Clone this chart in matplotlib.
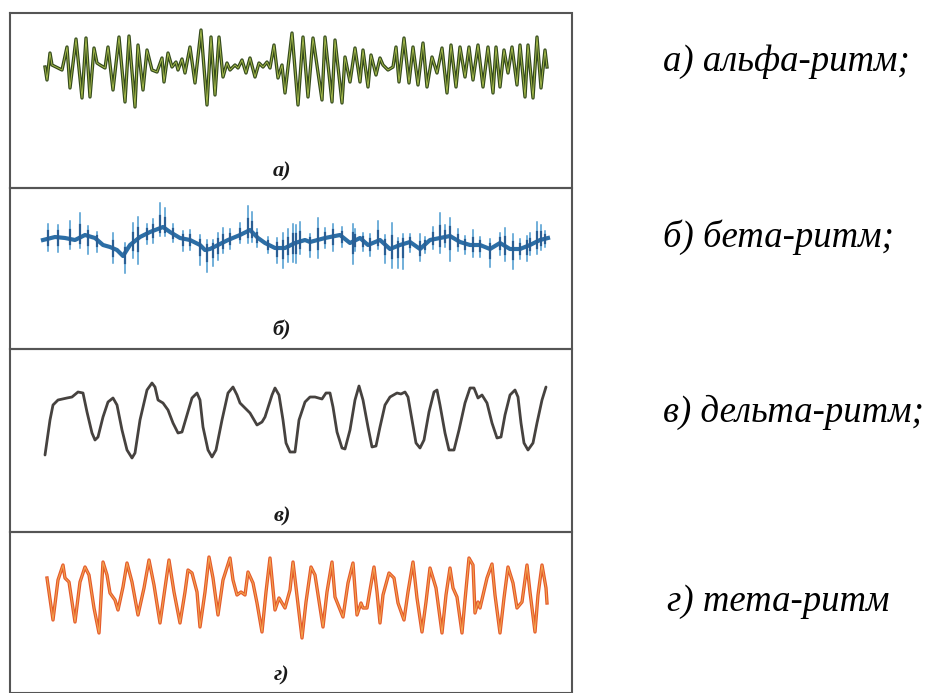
import matplotlib
matplotlib.use('Agg')
import matplotlib.pyplot as plt

W, H = 927, 693

# readings: x position, y position (pixel-like units)
alpha_x = [45, 47, 50, 52, 58, 62, 67, 70, 76, 82, 86, 90, 94, 97, 100, 105, 108, 113, 119, 125,
           129, 135, 138, 143, 147, 152, 157, 162, 164, 168, 172, 176, 178, 182, 185, 190, 195, 201,
           207, 211, 215, 219, 223, 227, 230, 235, 238, 242, 246, 250, 255, 259, 263, 267, 270, 274,
           278, 282, 285, 292, 298, 303, 308, 313, 322, 325, 332, 335, 342, 345, 350, 355, 360, 363,
           368, 371, 376, 380, 383, 388, 393, 396, 399, 404, 409, 413, 418, 423, 427, 432, 437, 442,
           447, 451, 456, 460, 465, 469, 473, 478, 483, 488, 493, 496, 500, 504, 508, 512, 517, 520,
           525, 528, 533, 537, 541, 545, 547]
alpha_y = [67, 80, 53, 65, 68, 70, 47, 88, 39, 98, 38, 97, 48, 63, 65, 68, 47, 90, 37, 102,
           36, 107, 45, 90, 50, 70, 72, 58, 82, 53, 67, 62, 70, 59, 73, 47, 83, 30,
           105, 37, 95, 37, 77, 63, 70, 65, 68, 60, 73, 58, 77, 63, 67, 62, 68, 45,
           78, 65, 93, 33, 105, 37, 97, 38, 100, 37, 102, 40, 103, 57, 82, 48, 82, 50,
           87, 55, 75, 58, 65, 70, 67, 47, 82, 38, 83, 47, 85, 43, 87, 57, 73, 48,
           93, 45, 87, 47, 77, 47, 80, 45, 87, 47, 93, 47, 87, 50, 73, 47, 85, 45,
           97, 45, 98, 37, 88, 50, 67]

beta_x = [43, 55, 65, 75, 85, 95, 103, 110, 117, 123, 130, 140, 150, 163, 170, 180, 190, 200, 205,
          210, 218, 228, 240, 250, 258, 265, 275, 285, 295, 305, 310, 325, 340, 350, 360, 368, 380,
          390, 400, 410, 420, 430, 440, 450, 460, 470, 480, 490, 500, 510, 520, 530, 540, 548]
beta_y = [240, 237, 238, 240, 235, 238, 245, 247, 250, 256, 245, 237, 232, 227, 232, 238, 240, 245, 250,
          249, 245, 240, 235, 230, 238, 243, 248, 248, 243, 240, 242, 238, 235, 243, 238, 245, 240,
          249, 245, 242, 249, 240, 238, 236, 242, 245, 245, 249, 243, 249, 249, 245, 240, 238]
spike_x = [48, 58, 70, 80, 88, 97, 113, 125, 133, 138, 147, 153, 160, 165, 173, 183, 190, 200, 207,
           213, 218, 223, 230, 240, 248, 252, 257, 268, 277, 283, 288, 293, 296, 300, 310, 318, 325,
           333, 342, 353, 355, 363, 370, 378, 385, 392, 398, 403, 410, 420, 425, 433, 440, 445, 450,
           458, 465, 473, 480, 490, 500, 505, 513, 520, 527, 530, 537, 541, 545]
spike_up = [15, 12, 18, 25, 10, 8, 15, 10, 20, 22, 10, 12, 25, 20, 10, 8, 10, 10, 10,
            8, 12, 15, 10, 12, 25, 20, 8, 8, 10, 15, 18, 20, 18, 20, 8, 22, 10,
            12, 10, 18, 12, 8, 10, 20, 10, 25, 8, 10, 8, 15, 8, 12, 25, 12, 18,
            12, 8, 15, 8, 10, 10, 18, 15, 10, 10, 12, 20, 15, 8]
spike_down = [12, 15, 10, 10, 18, 12, 15, 20, 15, 25, 10, 12, 8, 8, 8, 12, 10, 20, 22,
              18, 15, 10, 10, 8, 12, 10, 10, 8, 15, 20, 15, 18, 20, 12, 15, 18, 10,
              15, 10, 22, 10, 10, 12, 8, 18, 20, 22, 25, 10, 12, 8, 10, 15, 10, 25,
              10, 10, 12, 12, 18, 12, 15, 20, 10, 15, 10, 12, 10, 8]

delta_x = [45, 50, 53, 58, 67, 72, 78, 83, 87, 92, 95, 98, 103, 108, 113, 117, 122, 127, 132, 135,
           140, 147, 152, 155, 158, 163, 168, 173, 178, 182, 187, 192, 197, 200, 203, 208, 212, 216,
           222, 228, 233, 237, 240, 245, 250, 257, 262, 265, 272, 275, 279, 283, 286, 290, 295, 299,
           305, 310, 315, 322, 326, 330, 333, 337, 342, 345, 350, 355, 359, 363, 368, 372, 376, 380,
           385, 390, 397, 401, 405, 408, 412, 416, 420, 424, 429, 434, 437, 440, 445, 449, 454, 459,
           465, 470, 474, 478, 482, 487, 492, 497, 501, 505, 510, 515, 518, 521, 524, 528, 533, 537,
           542, 546]
delta_y = [455, 420, 405, 400, 398, 397, 392, 393, 412, 433, 440, 437, 417, 402, 398, 405, 430, 450, 458, 453,
           420, 390, 383, 387, 400, 403, 410, 423, 433, 432, 415, 398, 393, 400, 427, 450, 457, 450,
           420, 393, 387, 395, 403, 408, 413, 425, 422, 417, 395, 388, 395, 420, 443, 452, 452, 420,
           402, 397, 397, 399, 393, 393, 407, 432, 448, 449, 430, 400, 386, 400, 427, 447, 446, 427,
           405, 397, 393, 394, 392, 397, 420, 443, 448, 440, 412, 392, 390, 405, 433, 450, 450, 430,
           403, 388, 388, 398, 395, 403, 423, 438, 437, 415, 395, 390, 397, 423, 443, 450, 443, 423,
           400, 387]

theta_x = [47, 53, 58, 63, 65, 69, 75, 80, 85, 89, 94, 99, 103, 107, 110, 115, 118, 123, 127, 132,
           138, 144, 149, 154, 160, 165, 169, 174, 180, 185, 188, 192, 197, 200, 205, 209, 213, 218,
           223, 230, 233, 237, 241, 245, 248, 253, 257, 262, 266, 270, 275, 279, 285, 290, 293, 302,
           306, 311, 315, 323, 327, 332, 335, 343, 348, 353, 357, 361, 363, 367, 370, 374, 377, 380,
           383, 389, 394, 398, 404, 408, 413, 417, 422, 426, 430, 436, 442, 446, 450, 453, 457, 462,
           465, 469, 473, 475, 478, 480, 487, 492, 495, 500, 504, 508, 513, 517, 522, 527, 530, 535,
           538, 542, 546, 547]
theta_y = [578, 620, 580, 565, 578, 582, 622, 582, 567, 575, 608, 633, 562, 575, 593, 600, 610, 587, 563, 582,
           615, 588, 560, 585, 623, 588, 560, 592, 623, 592, 570, 573, 592, 627, 592, 557, 578, 615,
           580, 558, 580, 595, 592, 595, 572, 583, 603, 632, 592, 558, 610, 598, 608, 590, 562, 638,
           602, 567, 575, 627, 592, 562, 597, 617, 583, 563, 615, 603, 608, 608, 590, 567, 592, 623,
           595, 573, 578, 603, 620, 592, 562, 598, 632, 602, 568, 588, 633, 595, 568, 588, 597, 633,
           600, 558, 565, 613, 602, 608, 578, 564, 595, 633, 598, 567, 583, 608, 602, 565, 592, 632,
           595, 565, 588, 603]

panel_tags = ['а)', 'б)', 'в)', 'г)']
captions = ['а) альфа-ритм;', 'б) бета-ритм;', 'в) дельта-ритм;', 'г) тета-ритм']
panel_edges = [13, 188, 349, 532, 693]
tag_y = [171, 330, 516, 675]
caption_y = [62, 237, 412, 602]

fig = plt.figure(figsize=(W / 100, H / 100), dpi=100)
fig.patch.set_facecolor('white')
ax = fig.add_axes([0, 0, 1, 1])
ax.set_xlim(0, W)
ax.set_ylim(H, 0)
ax.axis('off')

box_left, box_right = 10, 572
for i in range(4):
    top, bottom = panel_edges[i], panel_edges[i + 1]
    ax.plot([box_left, box_right, box_right, box_left, box_left],
            [top, top, bottom, bottom, top], color='#555555', lw=1.5, solid_joinstyle='miter')
    ax.text(282, tag_y[i], panel_tags[i], fontsize=16, fontweight='bold', fontstyle='italic',
            family='Liberation Serif', ha='center', va='center', color='#1a1a1a')
    ax.text(663 if i < 3 else 667, caption_y[i], captions[i], fontsize=26.5, fontstyle='italic',
            family='Liberation Serif', ha='left', va='center', color='black')

# alpha
ax.plot(alpha_x, alpha_y, color='#33491c', lw=2.4, solid_joinstyle='round')
ax.plot(alpha_x, alpha_y, color='#a3b84a', lw=0.7, solid_joinstyle='round')

# beta
ax.plot(beta_x, beta_y, color='#2c6ea6', lw=3.0, solid_joinstyle='round')
for sx, su, sd in zip(spike_x, spike_up, spike_down):
    by = None
    for j in range(len(beta_x) - 1):
        if beta_x[j] <= sx <= beta_x[j + 1]:
            f = (sx - beta_x[j]) / (beta_x[j + 1] - beta_x[j])
            by = beta_y[j] + f * (beta_y[j + 1] - beta_y[j])
            break
    if by is None:
        by = beta_y[-1]
    ax.plot([sx, sx], [by - su, by + sd], color='#4a9ad0', lw=1.1)
    ax.plot([sx, sx], [by - su * 0.5, by + sd * 0.5], color='#2a5f95', lw=1.6)

# delta
ax.plot(delta_x, delta_y, color='#46423f', lw=2.0, solid_joinstyle='round', solid_capstyle='round')

# theta
ax.plot(theta_x, theta_y, color='#e4582a', lw=2.4, solid_joinstyle='round')
ax.plot(theta_x, theta_y, color='#f2a24e', lw=0.8, solid_joinstyle='round')

fig.savefig('out.png', dpi=100, facecolor='white')
